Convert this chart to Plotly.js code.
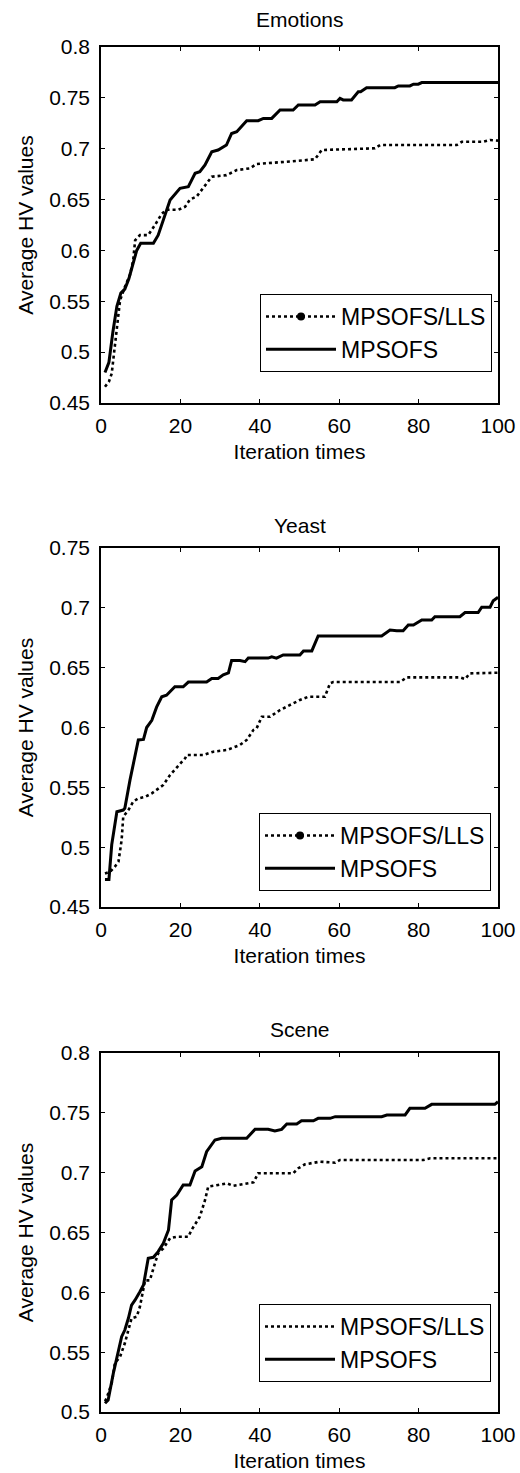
<!DOCTYPE html>
<html>
<head>
<meta charset="utf-8">
<script src="https://cdn.plot.ly/plotly-3.0.1.min.js"></script>
<style>
html,body{margin:0;padding:0;background:#fff;}
#chart{width:520px;height:1473px;}
</style>
</head>
<body>
<div id="chart"></div>
<script>
// ---- Data ----
const subplotTitles = ["Emotions", "Yeast", "Scene"];
const seriesNames = ["MPSOFS/LLS", "MPSOFS"];
const xTickVals = [0, 20, 40, 60, 80, 100];

// Emotions
const emoLlsX = [1, 2, 2.7, 4.8, 6, 7.3, 8.1, 8.6, 9.8, 11.9, 13.6, 15.3, 16.5, 19.5, 21.2, 22.4, 24.1, 26.2, 27.9, 31.6, 34.2, 37.5, 39.2, 46.8, 53.9, 55.6, 69, 70.3, 89.6, 90.9, 96.3, 98, 100];
const emoLlsY = [0.466, 0.471, 0.479, 0.551, 0.564, 0.576, 0.59, 0.61, 0.615, 0.615, 0.625, 0.636, 0.640, 0.640, 0.643, 0.650, 0.653, 0.664, 0.6725, 0.674, 0.679, 0.6807, 0.685, 0.6872, 0.6896, 0.6987, 0.7004, 0.7036, 0.7036, 0.7068, 0.7068, 0.7085, 0.708];
const emoMpX = [1, 2, 3, 4, 5, 6, 7, 8, 9, 10, 13.2, 14.4, 17, 17.4, 19.9, 22, 23.7, 24.9, 26.2, 27.9, 29.5, 31.6, 32.9, 34.2, 36.7, 39.6, 40.9, 43, 45.1, 48.4, 49.7, 53.9, 55.2, 59.4, 60.2, 61, 63.1, 64.8, 65.4, 66.9, 74, 74.9, 77.8, 78.7, 79.9, 80.8, 100];
const emoMpY = [0.480, 0.490, 0.520, 0.545, 0.558, 0.562, 0.572, 0.585, 0.600, 0.607, 0.607, 0.615, 0.6466, 0.6496, 0.661, 0.6626, 0.6758, 0.6774, 0.684, 0.697, 0.6987, 0.7036, 0.715, 0.7167, 0.7275, 0.7275, 0.7298, 0.7298, 0.738, 0.738, 0.743, 0.743, 0.7462, 0.7462, 0.7495, 0.748, 0.748, 0.756, 0.756, 0.760, 0.760, 0.7617, 0.7617, 0.7634, 0.7634, 0.765, 0.765];

// Yeast
const yeaLlsX = [1, 2.3, 3.5, 4.4, 5.2, 5.6, 6.9, 8.1, 9.4, 11.1, 12.8, 14.4, 15.7, 17.4, 19.1, 21.2, 21.6, 25.8, 28.3, 31.7, 35, 36.7, 38.4, 39.2, 40.5, 42.6, 45.1, 47.6, 50.1, 52.2, 56.4, 57.7, 58.5, 75.3, 77, 90.4, 91.7, 92.9, 100];
const yeaLlsY = [0.478, 0.4795, 0.4837, 0.4879, 0.506, 0.5255, 0.531, 0.538, 0.5408, 0.542, 0.545, 0.549, 0.552, 0.5603, 0.567, 0.5743, 0.577, 0.577, 0.5798, 0.5812, 0.5854, 0.5896, 0.598, 0.5993, 0.609, 0.609, 0.6146, 0.6188, 0.623, 0.6257, 0.6257, 0.637, 0.638, 0.638, 0.6419, 0.6419, 0.6405, 0.6452, 0.6458];
const yeaMpX = [1, 2, 2.7, 4, 5.6, 6, 7.3, 9.4, 10.7, 11.5, 12.8, 14, 15.3, 16.5, 18.6, 20.7, 22, 26.6, 27.9, 29.5, 30.8, 32.1, 32.9, 35, 36.3, 37.1, 42.1, 43, 44.2, 45.9, 50.1, 51, 53.1, 54.7, 70.7, 72.8, 74.5, 76.1, 77.4, 78.7, 80.8, 83.3, 84.1, 90.4, 91.7, 95, 95.9, 98, 98.8, 100];
const yeaMpY = [0.473, 0.473, 0.502, 0.5296, 0.531, 0.5325, 0.556, 0.5896, 0.590, 0.600, 0.606, 0.617, 0.6257, 0.627, 0.634, 0.634, 0.638, 0.638, 0.641, 0.641, 0.644, 0.6457, 0.656, 0.656, 0.655, 0.658, 0.658, 0.659, 0.658, 0.6606, 0.6606, 0.664, 0.664, 0.6765, 0.6765, 0.6815, 0.6808, 0.6808, 0.6857, 0.6857, 0.6898, 0.6898, 0.6926, 0.6926, 0.696, 0.696, 0.7005, 0.7005, 0.706, 0.7088];

// Scene
const sceLlsX = [1, 1.4, 2.7, 3.5, 4.8, 6, 6.9, 7.7, 9, 9.8, 11.1, 11.9, 12.3, 13.6, 14.4, 15.7, 17.4, 19.1, 22, 22.8, 24.9, 26.2, 27, 29.5, 31.7, 33.3, 38.4, 39.6, 48.4, 49.7, 51.4, 55.2, 59, 60.2, 81.2, 82.9, 100];
const sceLlsY = [0.509, 0.5114, 0.524, 0.5407, 0.5462, 0.5574, 0.5685, 0.5783, 0.5796, 0.588, 0.610, 0.610, 0.610, 0.6243, 0.6326, 0.6368, 0.6452, 0.6465, 0.6465, 0.6521, 0.6632, 0.677, 0.6883, 0.6897, 0.6911, 0.689, 0.6919, 0.6995, 0.6995, 0.7037, 0.707, 0.7092, 0.7083, 0.7106, 0.7106, 0.712, 0.712];
const sceMpX = [1, 1.8, 3.1, 4.4, 5.2, 6, 6.9, 7.7, 8.6, 9.8, 10.7, 11.9, 13.2, 14.4, 15.7, 17, 17.8, 19.1, 20.7, 22.4, 23.7, 25.4, 26.6, 28.7, 30.4, 36.7, 38.8, 42.1, 43.8, 45.5, 46.8, 49.3, 50.5, 53.5, 54.7, 57.7, 59, 70.7, 72, 76.6, 77.8, 81.6, 83.3, 99.2, 100];
const sceMpY = [0.5073, 0.510, 0.5323, 0.5504, 0.5629, 0.5685, 0.5783, 0.5894, 0.5936, 0.6005, 0.6061, 0.6284, 0.6293, 0.634, 0.641, 0.6521, 0.6772, 0.6813, 0.6897, 0.6897, 0.7014, 0.705, 0.7175, 0.7273, 0.7287, 0.7287, 0.7362, 0.7362, 0.7348, 0.7362, 0.7407, 0.7407, 0.7434, 0.7434, 0.7454, 0.7454, 0.7468, 0.7468, 0.7482, 0.7482, 0.7538, 0.7538, 0.7571, 0.7571, 0.7593];

const yRanges = [[0.45, 0.8], [0.45, 0.75], [0.5, 0.8]];
const legendMarker = [true, true, false];

// ---- Build ----
const FONT = "Liberation Sans, Arial, sans-serif";
const dataSets = [
  [emoLlsX, emoLlsY, emoMpX, emoMpY],
  [yeaLlsX, yeaLlsY, yeaMpX, yeaMpY],
  [sceLlsX, sceLlsY, sceMpX, sceMpY]
];
// pixel geometry of plot areas
const W = 520, H = 1473;
const xDom = [101 / W, 498 / W];
const yPix = [[47, 403], [548, 907], [1053, 1412]];
const legendPix = [[492, 294], [491, 813], [491, 1304]];
const titlePix = [20, 525, 1029];

const traces = [];
const layout = {
  width: W, height: H,
  margin: {l: 0, r: 0, t: 0, b: 0},
  paper_bgcolor: "#fff", plot_bgcolor: "#fff",
  font: {family: FONT, color: "#000", size: 21},
  showlegend: true,
  annotations: []
};

for (let i = 0; i < 3; i++) {
  const sfx = i === 0 ? "" : String(i + 1);
  const xa = "x" + sfx, ya = "y" + sfx;
  const lg = "legend" + sfx;
  const [lx, ly, mx, my] = dataSets[i];
  traces.push({
    x: lx, y: ly, xaxis: xa, yaxis: ya, type: "scatter", mode: "lines",
    name: seriesNames[0], legend: lg, showlegend: !legendMarker[i],
    line: {color: "#000", width: 2.6, dash: "dot"}
  });
  if (legendMarker[i]) {
    traces.push({
      x: [null], y: [null], xaxis: xa, yaxis: ya, type: "scatter", mode: "lines+markers",
      name: seriesNames[0], legend: lg, hoverinfo: "skip",
      line: {color: "#000", width: 2.6, dash: "dot"},
      marker: {color: "#000", size: 8}
    });
  }
  traces.push({
    x: mx, y: my, xaxis: xa, yaxis: ya, type: "scatter", mode: "lines",
    name: seriesNames[1], legend: lg,
    line: {color: "#000", width: 3}
  });

  const yd = [1 - yPix[i][1] / H, 1 - yPix[i][0] / H];
  layout["xaxis" + sfx] = {
    domain: xDom, anchor: ya, range: [0, 100],
    tickmode: "array", tickvals: xTickVals,
    ticks: "inside", ticklen: 4, tickwidth: 1, tickcolor: "#000",
    showline: true, linecolor: "#000", linewidth: 1.8, mirror: "allticks",
    showgrid: false, zeroline: false, fixedrange: true,
    tickfont: {size: 21, family: FONT, color: "#000"},
    ticklabelstandoff: 3,
    title: {text: "Iteration times", font: {size: 21, family: FONT, color: "#000"}, standoff: 8},
    automargin: false
  };
  layout["yaxis" + sfx] = {
    domain: yd, anchor: xa, range: yRanges[i],
    tick0: 0, dtick: 0.05,
    ticks: "inside", ticklen: 4, tickwidth: 1, tickcolor: "#000",
    showline: true, linecolor: "#000", linewidth: 1.8, mirror: "allticks",
    showgrid: false, zeroline: false, fixedrange: true,
    tickfont: {size: 21, family: FONT, color: "#000"},
    ticklabelstandoff: 5,
    title: {text: "Average HV values", font: {size: 21, family: FONT, color: "#000"}, standoff: 10},
    automargin: false
  };
  layout[lg] = {
    x: legendPix[i][0] / W, xanchor: "right",
    y: 1 - legendPix[i][1] / H, yanchor: "top",
    bgcolor: "#fff", bordercolor: "#000", borderwidth: 1,
    font: {size: 23, family: FONT, color: "#000"},
    itemwidth: 70, traceorder: "normal"
  };
  layout.annotations.push({
    text: subplotTitles[i], xref: "paper", yref: "paper",
    x: (xDom[0] + xDom[1]) / 2, y: 1 - titlePix[i] / H,
    xanchor: "center", yanchor: "middle", showarrow: false,
    font: {size: 21, family: FONT, color: "#000"}
  });
}

Plotly.newPlot("chart", traces, layout, {displayModeBar: false, staticPlot: true});
</script>
</body>
</html>
